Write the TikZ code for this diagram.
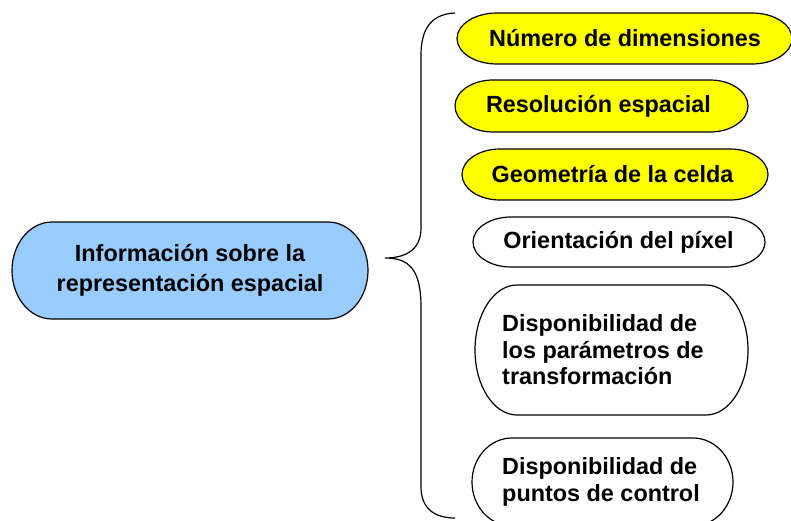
\documentclass[tikz,border=0pt]{standalone}
\usepackage{fontspec}
\setmainfont{Liberation Sans}
\definecolor{lblue}{HTML}{99CCFF}
\definecolor{yel}{HTML}{FFFF00}
\tikzset{
  capline/.style={draw=black, line width=1.2pt},
  bigtext/.style={font=\bfseries\fontsize{23.4}{30}\selectfont, align=center, inner sep=0pt},
  ctext/.style={font=\bfseries\fontsize{23.4}{26.5}\selectfont, align=center, inner sep=0pt},
  ltext/.style={font=\bfseries\fontsize{23.4}{26.5}\selectfont, align=left, inner sep=0pt, anchor=west},
  bracestyle/.style={draw=black, line width=1.2pt}
}
% name, cx, cy, w, h, rx, fill, node style, text
\newcommand\capnode[9]{%
  \draw[capline, fill=#7] (#2-#4/2+#6, #3+#5/2) -- (#2+#4/2-#6, #3+#5/2)
    arc[start angle=90, end angle=-90, x radius=#6, y radius=#5/2]
    -- (#2-#4/2+#6, #3-#5/2)
    arc[start angle=270, end angle=90, x radius=#6, y radius=#5/2] -- cycle;
}
\begin{document}
\begin{tikzpicture}[x=1pt,y=1pt]
\useasboundingbox (0,0) rectangle (791,520);
\begin{scope}
\clip (0,0) rectangle (791,520);
% left node
\capnode{info}{190}{249.5}{356}{97}{40}{lblue}{}{}
\node[bigtext] (info) at (190,249.5) {Información sobre la\\representación espacial};
% right nodes
\capnode{n1}{624.5}{481.5}{335}{51}{40}{yel}{}{}
\node[ctext] (n1) at (625,481.5) {Número de dimensiones};
\capnode{n2}{601.5}{414}{293}{52}{38}{yel}{}{}
\node[ctext] (n2) at (598.5,414) {Resolución espacial};
\capnode{n3}{615}{345.5}{306}{51}{38}{yel}{}{}
\node[ctext] (n3) at (612.5,345.5) {Geometría de la celda};
\capnode{n4}{619}{278}{292}{50}{38}{white}{}{}
\node[ctext] (n4) at (618.5,278) {Orientación del píxel};
\capnode{n5}{611.5}{170}{273}{130}{42}{white}{}{}
\node[ltext] (n5) at (502,170) {Disponibilidad de\\los parámetros de\\transformación};
\capnode{n6}{602.5}{38}{261}{88}{40}{white}{}{}
\node[ltext] (n6) at (502,38) {Disponibilidad de\\puntos de control};
% brace
\coordinate (btop) at (455,507);
\coordinate (btip) at (385,262);
\coordinate (bbot) at (455,2);
\draw[bracestyle] (btop) .. controls (432,506) and (421,492) .. (421,465)
  -- (421,292) .. controls (421,272) and (408,262) .. (btip)
  .. controls (408,262) and (421,252) .. (421,213)
  -- (421,33) .. controls (421,12) and (434,2) .. (bbot);
\end{scope}
\end{tikzpicture}
\end{document}
